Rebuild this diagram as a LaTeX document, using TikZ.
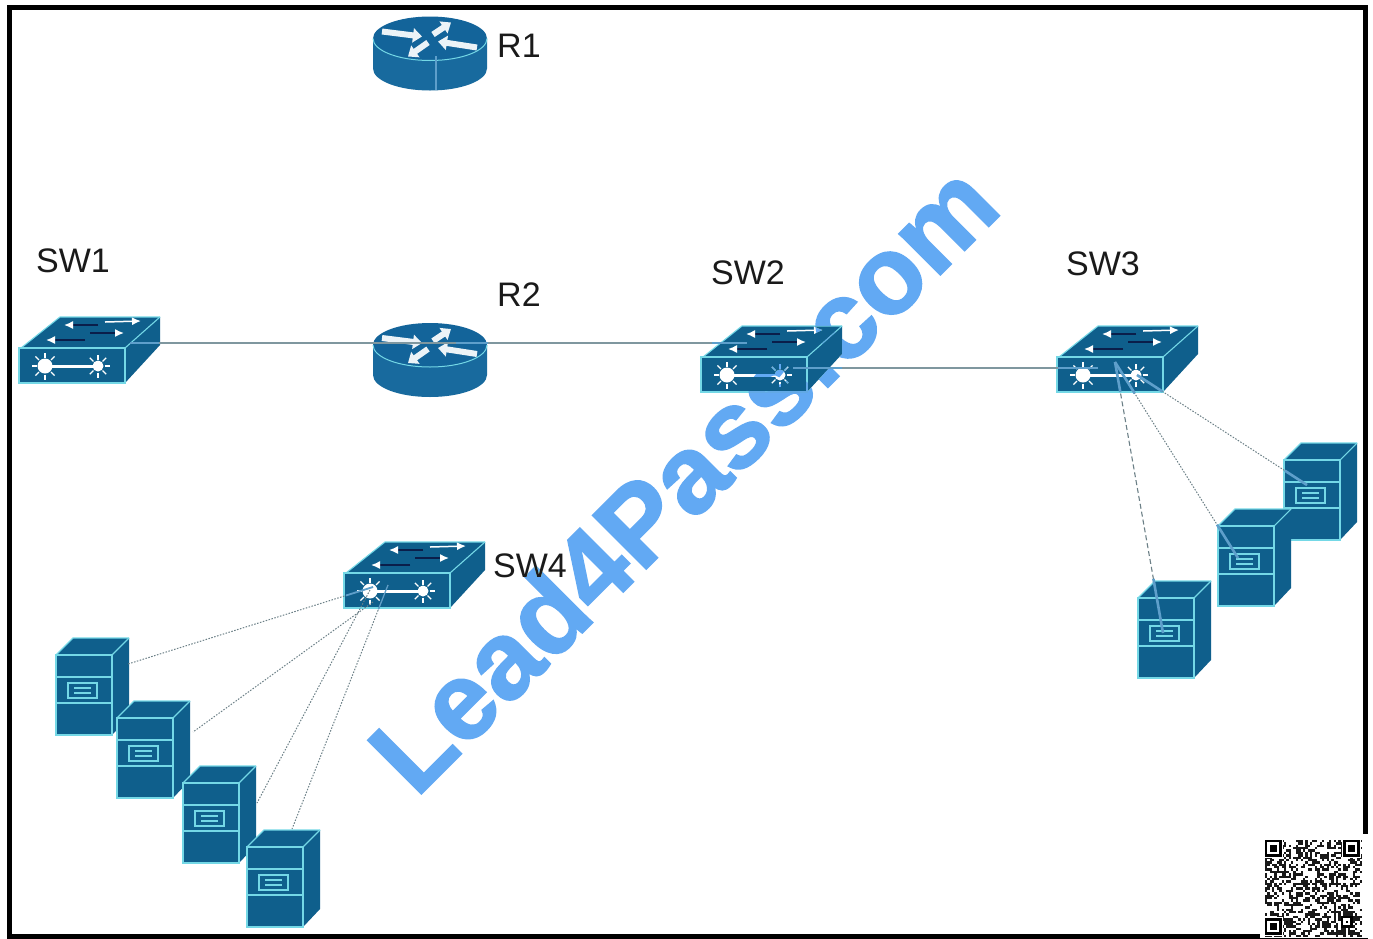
\documentclass[tikz,border=0pt]{standalone}
\usepackage{fontspec}
\setmainfont{Liberation Sans}
\newfontfamily\markfont[BoldFeatures={FakeBold=1.6}]{Liberation Sans}
\usetikzlibrary{arrows.meta,calc}
\definecolor{devfill}{HTML}{0F5F8C}
\definecolor{routerfill}{HTML}{186A9E}
\definecolor{routertop}{HTML}{13649A}
\definecolor{devedge}{HTML}{74D8E6}
\definecolor{wiregray}{HTML}{7F979F}
\definecolor{wireblue}{HTML}{5E9FCB}
\definecolor{markblue}{HTML}{62A9F3}
\definecolor{darkline}{HTML}{0A1E4A}
\definecolor{labelink}{HTML}{1A1A1A}
\newcommand{\starburst}[3]{%
  \fill[white] (#1,#2) circle[radius=#3pt];
  \foreach \ang in {0,45,...,315}
    \draw[white,line width=1.3pt] ($(#1,#2)+(\ang:#3+1)$) -- ($(#1,#2)+(\ang:#3+6)$);
}
\tikzset{
  x=1pt,y=-1pt,
  edge/.style={draw=devedge,line width=1.1pt,line join=miter},
  wire/.style={draw=wiregray,line width=1.1pt},
  wiretop/.style={draw=wireblue,line width=1.8pt},
  dotwire/.style={draw=wiregray!85!black,line width=1pt,dash pattern=on 1.5pt off 1.5pt},
  dashwire/.style={draw=wiregray!85!black,line width=1.1pt,dash pattern=on 5pt off 3pt},
  lbl/.style={font=\fontsize{34}{36}\selectfont,text=labelink,anchor=base west,inner sep=0pt},
  whitearrow/.style={draw=white!92!routertop,line width=6pt,-{Triangle[width=14pt,length=9pt,color=white!92!routertop]}},
  topwhite/.style={draw=white,line width=1.5pt,-{Latex[width=8pt,length=9pt,color=white]}},
  topdark/.style={draw=darkline,line width=1.5pt,-{Latex[width=8pt,length=9pt,color=white]}},
  pics/switchbox/.style={code={
    \fill[devfill] (2,0) -- (41,-31) -- (141,-31) -- (141,-3) -- (106,35) -- (0,35) -- (0,0) -- cycle;
    \draw[edge] (0,0) rectangle (106,35);
    \draw[edge] (2,0) -- (41,-31) -- (141,-31);
    \draw[edge] (106,0) -- (141,-31);
    \draw[topdark] (79,-23) -- (45,-23);
    \draw[topwhite] (86,-26) -- (122,-27);
    \draw[topdark] (66,-8) -- (27,-8);
    \draw[topdark] (71,-15) -- (105,-15);
    \draw[white,line width=3pt] (26,18) -- (79,18);
    \starburst{26}{18}{7.5}
    \starburst{79}{18}{5.5}
    \coordinate (-c) at (60,18);
  }},
  pics/routerdisk/.style={code={
    \fill[routerfill] (-57,0) -- (-57,30) arc[start angle=180,end angle=360,x radius=57pt,y radius=22pt] -- (57,0) -- cycle;
    \fill[routertop] (0,0) ellipse[x radius=57pt,y radius=22pt];
    \draw[devedge,line width=1pt] (-57,0) arc[start angle=180,end angle=360,x radius=57pt,y radius=22pt];
    \draw[whitearrow] (-48,-7) -- (-8,-2);
    \draw[whitearrow] (3,-4) -- (21,-16);
    \draw[whitearrow] (47,9) -- (8,3);
    \draw[whitearrow] (-2,4) -- (-22,18);
    \coordinate (-c) at (0,0);
  }},
  pics/serverbox/.style={code={
    \fill[devfill] (0,0) -- (17,-17) -- (73,-17) -- (73,62) -- (56,80) -- (0,80) -- cycle;
    \draw[edge] (0,0) rectangle (56,80);
    \draw[edge] (0,0) -- (17,-17) -- (73,-17);
    \draw[edge] (56,0) -- (73,-17);
    \draw[edge] (0,22) -- (56,22);
    \draw[edge] (0,48) -- (56,48);
    \draw[edge] (12,28) rectangle (41,43);
    \draw[edge] (18,33) -- (35,33);
    \draw[edge] (18,38) -- (35,38);
  }},
}
\begin{document}
\begin{tikzpicture}
\useasboundingbox (0,0) rectangle (1373,938);
\fill[white] (0,0) rectangle (1373,938);
% frame
\draw[black,line width=5pt] (9.5,7) rectangle (1365,936);
\fill[white] (1260,834) rectangle (1373,938);

% devices
\pic (r1) at (430,38.5) {routerdisk};
\pic (r2) at (430,345) {routerdisk};
\pic (sw1) at (19,348) {switchbox};
\pic (sw2) at (701,357) {switchbox};
\pic (sw3) at (1057,357) {switchbox};
\pic (sw4) at (344,573) {switchbox};
\pic (sa) at (56,655) {serverbox};
\pic (sb) at (117,718) {serverbox};
\pic (sc) at (183,783) {serverbox};
\pic (sd) at (247,847) {serverbox};
\pic (se) at (1284,460) {serverbox};
\pic (sf) at (1218,526) {serverbox};
\pic (sg) at (1138,598) {serverbox};

% connector ends
\coordinate (sw1port) at (130,343);
\coordinate (r2west) at (373,343);
\coordinate (r2port) at (456,343);
\coordinate (sw2north) at (747,343);
\coordinate (sw2port) at (793,368);
\coordinate (sw3port) at (1098,368);
\coordinate (r1stub) at (436,56);
\coordinate (r1base) at (436,90);
\coordinate (sw3e) at (1137,375);
\coordinate (sw3f) at (1115,362);
\coordinate (sefoot) at (1307,485);
\coordinate (sffoot) at (1238,558);
\coordinate (sgfoot) at (1163,633);
\coordinate (sw4a) at (373,587);
\coordinate (sw4b) at (373,602);
\coordinate (sw4c) at (370,590);
\coordinate (sw4d) at (388,585);
\coordinate (saend) at (128,664);
\coordinate (sbend) at (193,732);
\coordinate (scend) at (257,803);
\coordinate (sdend) at (292,829);

% solid links
\draw[wire] (sw1port) -- (r2west);
\draw[wiretop] (sw1port) -- ($(sw1port)!0.12!(r2west)$);
\draw[wire] (r2west) -- (sw2north);
\draw[wiretop] (r2port) -- ($(r2port)!0.11!(sw2north)$);
\draw[wiretop] ($(r2port)!0.88!(sw2north)$) -- (sw2north);
\draw[wire] (sw2port) -- (sw3port);
\draw[wiretop] (sw2port) -- ($(sw2port)!0.16!(sw3port)$);
\draw[wiretop] ($(sw2port)!0.87!(sw3port)$) -- (sw3port);
\draw[wiretop] (r1stub) -- (r1base);

% SW3 to servers
\draw[dotwire] (sw3e) -- (sefoot);
\draw[wiretop,line width=2.6pt] (sw3e) -- ($(sw3e)!0.15!(sefoot)$);
\draw[wiretop,line width=2.6pt] ($(sw3e)!0.87!(sefoot)$) -- (sefoot);
\draw[dotwire] (sw3f) -- (sffoot);
\draw[wiretop,line width=2.6pt] (sw3f) -- ($(sw3f)!0.16!(sffoot)$);
\draw[wiretop,line width=2.6pt] ($(sw3f)!0.83!(sffoot)$) -- (sffoot);
\draw[dashwire] (sw3f) -- (sgfoot);
\draw[wiretop,line width=2.6pt] (sw3f) -- ($(sw3f)!0.11!(sgfoot)$);
\draw[wiretop,line width=2.6pt] ($(sw3f)!0.80!(sgfoot)$) -- (sgfoot);

% SW4 to servers
\draw[dotwire] (sw4a) -- (saend);
\draw[wiretop] (sw4a) -- ($(sw4a)!0.11!(saend)$);
\draw[dotwire] (sw4b) -- (sbend);
\draw[dotwire] (sw4c) -- (scend);
\draw[dotwire] (sw4d) -- (sdend);
\draw[wiretop,line width=1.2pt] (sw4d) -- ($(sw4d)!0.1!(sdend)$);

% labels
\node[lbl] (lr1) at (497,57) {R1};
\node[lbl] (lr2) at (497,306) {R2};
\node[lbl] (lsw1) at (36,272) {SW1};
\node[lbl] (lsw2) at (711,284) {SW2};
\node[lbl] (lsw3) at (1066,275) {SW3};
\node[lbl] (lsw4) at (493,577) {SW4};

% watermark
\begin{scope}[blend mode=darken]
\node[anchor=base west,inner sep=0pt,rotate=45,text=markblue,font=\fontsize{110}{112}\selectfont\markfont\bfseries] (wm) at (416,799) {Lead4Pass.com};
\end{scope}

% QR code
\begin{scope}[shift={(1265,840)}]
  \def\qm{2.37}
  \pgfmathsetseed{20417}
  \foreach \i in {0,...,40}{
    \foreach \j in {0,...,40}{
      \pgfmathparse{rnd}
      \ifdim\pgfmathresult pt<0.48pt
        \fill[black!90] ({\i*\qm},{\j*\qm}) rectangle ++(\qm,\qm);
      \fi
    }
  }
  \foreach \ox/\oy in {0/0,33/0,0/33}{
    \fill[white] ({(\ox-0.5)*\qm},{(\oy-0.5)*\qm}) rectangle ++({8*\qm},{8*\qm});
    \fill[black] ({\ox*\qm},{\oy*\qm}) rectangle ++({7*\qm},{7*\qm});
    \fill[white] ({(\ox+1)*\qm},{(\oy+1)*\qm}) rectangle ++({5*\qm},{5*\qm});
    \fill[black] ({(\ox+2)*\qm},{(\oy+2)*\qm}) rectangle ++({3*\qm},{3*\qm});
  }
  \fill[black] ({32*\qm},{32*\qm}) rectangle ++({5*\qm},{5*\qm});
  \fill[white] ({33*\qm},{33*\qm}) rectangle ++({3*\qm},{3*\qm});
  \fill[black] ({34*\qm},{34*\qm}) rectangle ++(\qm,\qm);
\end{scope}
\end{tikzpicture}
\end{document}
